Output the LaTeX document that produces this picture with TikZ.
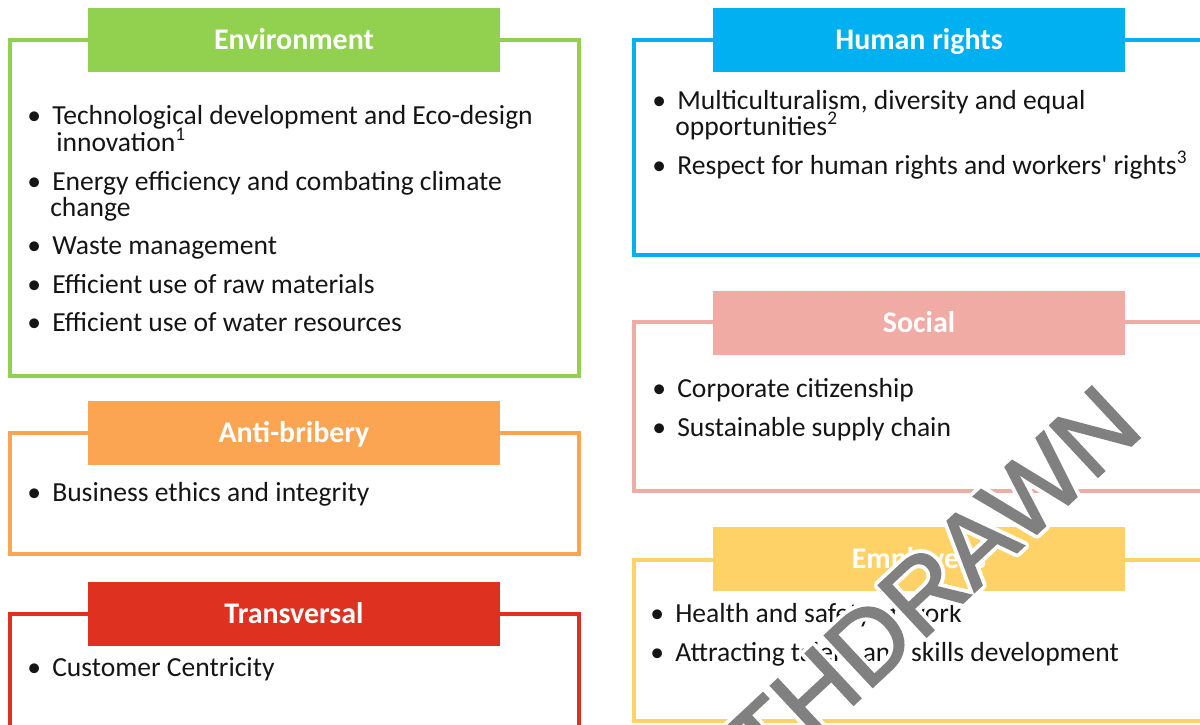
\documentclass[tikz,border=0pt]{standalone}
\usepackage{fontspec}
\setmainfont{Carlito}
\newfontfamily\wmfam[FakeBold=2]{Liberation Sans}
\newfontfamily\wmhalofam{Liberation Sans}
\usepackage{tikz}
\definecolor{envgreen}{HTML}{92D050}
\definecolor{antiorange}{HTML}{FBA552}
\definecolor{transred}{HTML}{DF3120}
\definecolor{hrblue}{HTML}{00B0F0}
\definecolor{socpink}{HTML}{F1ABA5}
\definecolor{empyellow}{HTML}{FED266}
\definecolor{bodyblack}{HTML}{151515}
\definecolor{wmgray}{HTML}{808080}
\newcommand\itemfont{\fontsize{19.6}{19.6}\selectfont}
\newcommand\headfont{\fontsize{21.3}{21.3}\selectfont\bfseries}
\newcommand\wmfont{\wmfam\fontsize{72.6}{72.6}\selectfont}
\newcommand\wmhalofont{\wmhalofam\fontsize{72.6}{72.6}\selectfont}
\newcommand\bul{\makebox[0.625cm][l]{\textbullet}}
\newcommand\halotext[1]{\special{pdf:literal direct 1 Tr 7 w 1 J 1 j 1 1 1 RG}#1\special{pdf:literal direct 0 Tr 1 w 0 J 0 j}}

\begin{document}
\begin{tikzpicture}[x=0.025cm, y=-0.025cm,
  boxframe/.style={draw=#1, line width=2.8pt},
  headbar/.style={fill=#1, text=white, font=\headfont, minimum width=10.3cm, minimum height=1.6cm, text height=13.7pt, text depth=0pt, inner sep=0pt},
  item/.style={anchor=base west, inner sep=0pt, font=\itemfont, text=bodyblack},
  wmark/.style={font=\wmfont, anchor=base east, rotate=43, inner sep=0pt}]
\useasboundingbox (0,0) rectangle (1200,724);
\clip (0,0) rectangle (1200,724);

\draw[boxframe=envgreen] (10,40) rectangle (579,376);
\node[headbar=envgreen] (env) at (294,40) {Environment};
\node[item] (env-1) at (27,124) {\bul Technological development and Eco-design};
\node[item] (env-1b) at (56,151) {innovation\textsuperscript{1}};
\node[item] (env-2) at (27,190) {\bul Energy efficiency and combating climate};
\node[item] (env-2b) at (50,216) {change};
\node[item] (env-3) at (27,254) {\bul Waste management};
\node[item] (env-4) at (27,293) {\bul Efficient use of raw materials};
\node[item] (env-5) at (27,331) {\bul Efficient use of water resources};

\draw[boxframe=antiorange] (10,433) rectangle (579,554);
\node[headbar=antiorange] (anti) at (294,433) {Anti-bribery};
\node[item] (anti-1) at (27,501) {\bul Business ethics and integrity};

\draw[boxframe=transred] (10,614) rectangle (579,745);
\node[headbar=transred] (trans) at (294,614) {Transversal};
\node[item] (trans-1) at (27,676) {\bul Customer Centricity};

\draw[boxframe=hrblue] (634,40) rectangle (1215,255);
\node[headbar=hrblue] (hr) at (919,40) {Human rights};
\node[item] (hr-1) at (652,109) {\bul Multiculturalism, diversity and equal};
\node[item] (hr-1b) at (675,135) {opportunities\textsuperscript{2}};
\node[item] (hr-2) at (652,174) {\bul Respect for human rights and workers\textquotesingle\ rights\textsuperscript{3}};

\draw[boxframe=socpink] (634,322) rectangle (1215,491);
\node[headbar=socpink] (soc) at (919,323) {Social};
\node[item] (soc-1) at (652,397) {\bul Corporate citizenship};
\node[item] (soc-2) at (652,436) {\bul Sustainable supply chain};

\draw[boxframe=empyellow] (634,560) rectangle (1215,721);
\node[headbar=empyellow] (emp) at (919,559) {Employees};
\node[item] (emp-1) at (650,622) {\bul Health and safety at work};
\node[item] (emp-2) at (650,661) {\bul Attracting talent and skills development};

\coordinate (wm-end) at (1146,432);
\node[wmark, font=\wmhalofont] (wm-halo) at (wm-end) {\halotext{WITHDRAWN}};
\node[wmark, text=wmgray] (wm) at (wm-end) {WITHDRAWN};
\end{tikzpicture}
\end{document}
